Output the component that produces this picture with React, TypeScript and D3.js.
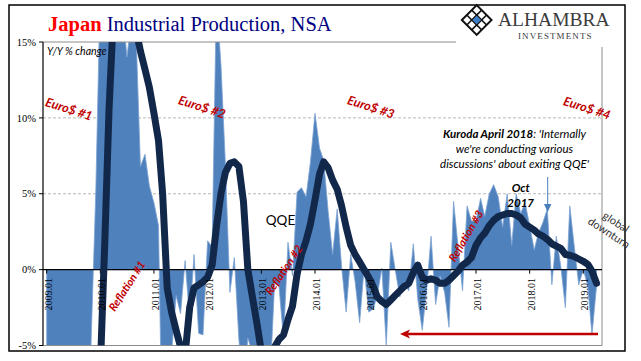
import * as d3 from "d3";
import React from "react";

// Japan industrial production, Y/Y % change (NSA), monthly from 2009.01
const firstMonth = new Date(2009, 0, 1);

const ipYoY = [
  -30.8, -38.4, -34.2, -31.2, -29.5, -23.5, -22.5, -18.7, -18.4, -15.1, -4.2, 5.1,
  18.9, 31.3, 31.8, 25.9, 19.7, 17.3, 14.0, 16.5, 15.6, 6.8, 7.6, 5.5,
  4.4, 2.9, -13.1, -13.6, -5.5, -1.7, -2.9, 0.6, -3.3, 1.0, -4.2, -4.3,
  1.9, 1.5, 18.0, 13.5, 7.0, -1.5, 0.8, -4.6, -8.1, -4.5, -5.5, -7.9,
  -5.8, -11.0, -7.3, -0.9, -1.1, -4.6, 1.8, -0.4, 5.1, 5.4, 4.8, 7.1,
  10.3, 8.0, 7.2, 3.8, 1.0, 4.0, 0.2, -2.8, 1.0, -0.8, -3.5, 0.1,
  -2.8, -2.6, -1.7, 0.1, -5.0, 1.8, 0.0, -1.8, -0.8, -1.4, 1.7, -1.9,
  -4.0, -1.2, 2.2, -2.3, -0.4, -1.5, -3.8, 4.5, 1.5, -1.4, 4.2, 3.2,
  3.2, 4.7, 3.5, 5.0, 5.6, 4.8, 2.8, 5.0, 1.6, 5.0, 3.7, 4.4,
  2.9, 1.3, 2.4, 3.1, 4.0, -1.0, 2.2, 0.2, -2.5, 4.2, 1.5, -1.0,
  0.0, -1.1, -4.3, -1.1,
];

// smoothed series (dark line)
const ipYoYAvg = [
  -13.9, -19.1, -24.7, -28.7, -30.8, -31.3, -29.9, -26.6, -24.0, -21.3, -17.1, -12.3,
  -6.5, 2.0, 10.5, 17.0, 21.0, 23.0, 23.5, 21.0, 15.8, 14.4, 13.2, 12.0,
  10.3, 8.5, 5.0, -1.2, -2.8, -4.0, -5.1, -5.6, -2.5, -1.2, -1.0, -0.8,
  -0.5, 0.3, 2.8, 5.0, 6.4, 7.0, 7.1, 6.8, 4.5, 0.0, -1.8, -3.5,
  -5.4, -6.5, -6.0, -5.1, -4.6, -4.3, -3.3, -2.4, -0.3, 1.0, 1.9, 3.0,
  4.6, 6.3, 7.1, 6.7, 5.9, 5.3, 4.2, 2.8, 1.6, 1.0, 0.5, 0.0,
  -0.5, -1.1, -1.8, -2.1, -2.3, -2.0, -1.7, -1.4, -1.1, -0.9, -0.2, 0.3,
  -0.5, -0.7, -0.6, -0.7, -0.9, -0.9, -0.7, -0.4, -0.1, 0.3, 0.5, 0.8,
  1.6, 2.1, 2.4, 2.9, 3.25, 3.5, 3.6, 3.7, 3.7, 3.6, 3.4, 3.0,
  2.8, 2.6, 2.35, 2.2, 2.0, 1.7, 1.55, 1.4, 1.0, 0.95, 0.85, 0.7,
  0.55, 0.35, -0.1, -0.9,
];

const yTicks = [-5, 0, 5, 10, 15];
const dashedLevels = [5, 10];

const months = d3.timeMonth.range(
  firstMonth,
  d3.timeMonth.offset(firstMonth, ipYoY.length)
);

const W = 641;
const H = 361;
const L = 43;
const R = 602;
const T = 42;
const B = 345.5;

const serif = "'Liberation Serif', 'Times New Roman', serif";
const sans = "Lato, 'Open Sans', sans-serif";
const red = "#c00000";

const App = () => {
  const x = d3
    .scaleTime()
    .domain([new Date(2009, 0, 1), new Date(2019, 0, 1)])
    .range([46.7, 583.3]);
  const y = d3.scaleLinear().domain([-5, 15]).range([B, T]);
  const yearTicks = x.ticks(d3.timeYear.every(1) as any);
  const fmt = d3.timeFormat("%Y.%m");

  const area = d3
    .area<number>()
    .x((_, i) => x(months[i]))
    .y0(y(0))
    .y1((d) => y(d));
  const line = d3
    .line<number>()
    .x((_, i) => x(months[i]))
    .y((d) => y(d));

  const euro = (label: string, cx: number, cy: number) => (
    <text
      transform={`translate(${cx},${cy}) rotate(18)`}
      textAnchor="middle"
      dy="0.35em"
      fontFamily={sans}
      fontStyle="italic"
      fontWeight="bold"
      fontSize={12.5}
      fill={red}
    >
      {label}
    </text>
  );
  const reflation = (label: string, cx: number, cy: number, a: number) => (
    <text
      transform={`translate(${cx},${cy}) rotate(${a})`}
      textAnchor="middle"
      dy="0.35em"
      fontFamily={sans}
      fontStyle="italic"
      fontWeight="bold"
      fontSize={11}
      fill={red}
    >
      {label}
    </text>
  );

  return (
    <svg
      width={W}
      height={H}
      style={{ position: "absolute", left: 0, top: 0, background: "#fff" }}
    >
      <defs>
        <clipPath id="plotClip">
          <rect x={L} y={T} width={R - L} height={B - T} />
        </clipPath>
      </defs>
      <rect x={0} y={0} width={W} height={H} fill="#fff" />
      <rect x={9} y={5} width={616} height={346} fill="none" stroke="#000" strokeWidth={1.5} />

      {dashedLevels.map((v) => (
        <line key={v} x1={L} x2={R} y1={y(v)} y2={y(v)} stroke="#b8b8b8" strokeDasharray="3,2" />
      ))}

      <path
        d={area(ipYoY) || ""}
        fill="#4f81bd"
        stroke="#7ea3d3"
        strokeWidth={0.8}
        clipPath="url(#plotClip)"
      />

      {/* plot frame */}
      <line x1={L} x2={R} y1={T} y2={T} stroke="#8c8c8c" />
      <line x1={L} x2={R} y1={B} y2={B} stroke="#8c8c8c" />
      <line x1={R} x2={R} y1={T} y2={B} stroke="#8c8c8c" />

      {/* zero axis */}
      <line x1={L} x2={R} y1={y(0)} y2={y(0)} stroke="#000" strokeWidth={1.2} />
      {yearTicks.map((d) => (
        <line key={+d} x1={x(d)} x2={x(d)} y1={y(0)} y2={y(0) + 4} stroke="#000" />
      ))}

      <path
        d={line(ipYoYAvg) || ""}
        fill="none"
        stroke="#12284a"
        strokeWidth={7}
        strokeLinejoin="round"
        strokeLinecap="round"
        clipPath="url(#plotClip)"
      />

      {/* y axis */}
      <line x1={L} x2={L} y1={T} y2={B} stroke="#000" strokeWidth={1.2} />
      {yTicks.map((v) => (
        <g key={v}>
          <line x1={L - 4} x2={L} y1={y(v)} y2={y(v)} stroke="#000" />
          <text
            x={36}
            y={y(v)}
            dy="0.35em"
            textAnchor="end"
            fontFamily={serif}
            fontSize={10.5}
          >
            {v}%
          </text>
        </g>
      ))}

      {yearTicks.map((d) => (
        <text
          key={"l" + +d}
          transform={`translate(${x(d) + 5},278) rotate(-90)`}
          textAnchor="end"
          fontFamily={serif}
          fontSize={10}
        >
          {fmt(d)}
        </text>
      ))}

      <text x={47} y={55} fontFamily={sans} fontStyle="italic" fontSize={10.5}>
        Y/Y % change
      </text>

      {euro("Euro$ #1", 69, 109)}
      {euro("Euro$ #2", 202, 107)}
      {euro("Euro$ #3", 371, 107)}
      {euro("Euro$ #4", 587, 108)}
      {reflation("Reflation #1", 127, 286, -57)}
      {reflation("Reflation #2", 284, 270, -56)}
      {reflation("Reflation #3", 466, 236, -60)}

      <text x={280.5} y={224.5} textAnchor="middle" fontFamily={sans} fontSize={13.5}>
        QQE
      </text>

      <g fontFamily={sans} fontStyle="italic" fontSize={11.5} textAnchor="middle">
        <text x={514.5} y={138}>
          <tspan fontWeight="bold">Kuroda April 2018</tspan>:{"  "}'Internally
        </text>
        <text x={514.5} y={153}>we're conducting various</text>
        <text x={514.5} y={168}>discussions' about exiting QQE'</text>
      </g>

      <g fontFamily={sans} fontStyle="italic" fontWeight="bold" fontSize={11.5} textAnchor="middle">
        <text x={520.7} y={192}>Oct</text>
        <text x={520.7} y={207}>2017</text>
      </g>

      <line x1={547.7} x2={547.7} y1={177} y2={205} stroke="#4a7ebb" strokeWidth={1} />
      <polygon points="544,204 551.4,204 547.7,212" fill="#4a7ebb" />

      <g transform="translate(616,222) rotate(33)" fontFamily={sans} fontSize={11} fill="#333" textAnchor="middle">
        <text x={0} y={4}>global</text>
        <text x={0} y={16.7}>downturn</text>
      </g>

      <line x1={406} x2={598} y1={334} y2={334} stroke={red} strokeWidth={2.5} />
      <polygon points="400,334 410,329.5 407.5,334 410,338.5" fill={red} />

      {/* logo */}
      <rect x={456} y={6} width={168} height={41} fill="#fff" />
      <g transform="translate(476.7,20) rotate(45)">
        <rect x={-10.5} y={-10.5} width={21} height={21} fill="none" stroke="#111" strokeWidth={2} />
        {[-3.5, 3.5].map((v) => (
          <g key={v}>
            <line x1={v} x2={v} y1={-10.5} y2={10.5} stroke="#111" strokeWidth={1.6} />
            <line y1={v} y2={v} x1={-10.5} x2={10.5} stroke="#111" strokeWidth={1.6} />
          </g>
        ))}
        <rect x={-3} y={-3} width={6} height={6} fill="#3b7cc4" />
      </g>
      <text x={498} y={26} fontFamily={serif} fontSize={19.5} fill="#3c3c3c">
        ALHAMBRA
      </text>
      <text x={518} y={38.5} fontFamily={serif} fontSize={9} letterSpacing={1.1} fill="#3c3c3c">
        INVESTMENTS
      </text>

      <text x={48} y={31} fontFamily={serif} fontSize={20.5}>
        <tspan fill="#ff0000" fontWeight="bold">Japan</tspan>
        <tspan fill="#000080"> Industrial Production, NSA</tspan>
      </text>
    </svg>
  );
};

export default App;
